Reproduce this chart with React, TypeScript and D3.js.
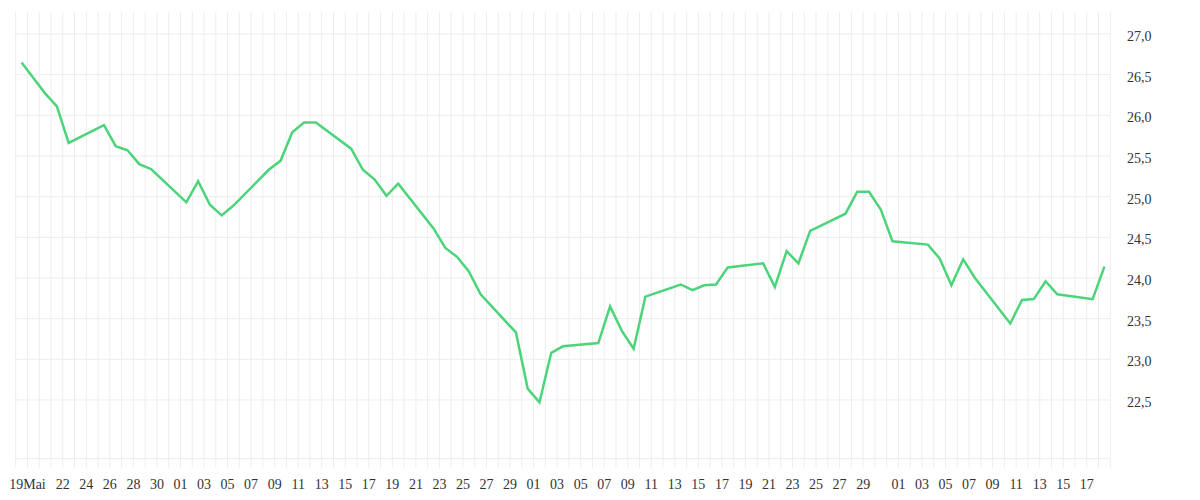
import { useEffect, useRef } from 'react';
import * as d3 from 'd3';

// trading days (weekdays) and closing values
const dates = [
  '2020-05-18', '2020-05-19', '2020-05-20', '2020-05-21', '2020-05-22',
  '2020-05-25', '2020-05-26', '2020-05-27', '2020-05-28', '2020-05-29',
  '2020-06-01', '2020-06-02', '2020-06-03', '2020-06-04', '2020-06-05',
  '2020-06-08', '2020-06-09', '2020-06-10', '2020-06-11', '2020-06-12',
  '2020-06-15', '2020-06-16', '2020-06-17', '2020-06-18', '2020-06-19',
  '2020-06-22', '2020-06-23', '2020-06-24', '2020-06-25', '2020-06-26',
  '2020-06-29', '2020-06-30', '2020-07-01', '2020-07-02', '2020-07-03',
  '2020-07-06', '2020-07-07', '2020-07-08', '2020-07-09', '2020-07-10',
  '2020-07-13', '2020-07-14', '2020-07-15', '2020-07-16', '2020-07-17',
  '2020-07-20', '2020-07-21', '2020-07-22', '2020-07-23', '2020-07-24',
  '2020-07-27', '2020-07-28', '2020-07-29', '2020-07-30', '2020-07-31',
  '2020-08-03', '2020-08-04', '2020-08-05', '2020-08-06', '2020-08-07',
  '2020-08-10', '2020-08-11', '2020-08-12', '2020-08-13', '2020-08-14',
  '2020-08-17', '2020-08-18',
];

const values = [
  26.65, 26.46, 26.27, 26.11, 25.66,
  25.88, 25.62, 25.57, 25.40, 25.34,
  24.93, 25.19, 24.90, 24.77, 24.89,
  25.33, 25.44, 25.79, 25.91, 25.91,
  25.59, 25.33, 25.21, 25.01, 25.16,
  24.61, 24.37, 24.26, 24.08, 23.80,
  23.33, 22.64, 22.47, 23.08, 23.16,
  23.20, 23.65, 23.35, 23.13, 23.77,
  23.92, 23.85, 23.91, 23.92, 24.13,
  24.18, 23.89, 24.33, 24.18, 24.58,
  24.79, 25.06, 25.06, 24.84, 24.45,
  24.41, 24.24, 23.91, 24.23, 24.00,
  23.44, 23.73, 23.74, 23.96, 23.80,
  23.74, 24.14,
];

const xTicks = [
  '2020-05-19', '2020-05-22', '2020-05-24', '2020-05-26', '2020-05-28', '2020-05-30',
  '2020-06-01', '2020-06-03', '2020-06-05', '2020-06-07', '2020-06-09', '2020-06-11',
  '2020-06-13', '2020-06-15', '2020-06-17', '2020-06-19', '2020-06-21', '2020-06-23',
  '2020-06-25', '2020-06-27', '2020-06-29',
  '2020-07-01', '2020-07-03', '2020-07-05', '2020-07-07', '2020-07-09', '2020-07-11',
  '2020-07-13', '2020-07-15', '2020-07-17', '2020-07-19', '2020-07-21', '2020-07-23',
  '2020-07-25', '2020-07-27', '2020-07-29',
  '2020-08-01', '2020-08-03', '2020-08-05', '2020-08-07', '2020-08-09', '2020-08-11',
  '2020-08-13', '2020-08-15', '2020-08-17',
];

const yTicks = [22.5, 23.0, 23.5, 24.0, 24.5, 25.0, 25.5, 26.0, 26.5, 27.0];

const domainStart = '2020-05-18';
const domainEnd = '2020-08-19';

const width = 1200;
const height = 500;
const left = 15.7;
const right = 1110.3;
const top = 12;
const bottom = 458.7;
const gridColor = '#ededed';
const textColor = '#333';
const lineColor = '#4cd47b';
const fontSize = 14;

function drawChart(node: SVGSVGElement) {
  const parse = d3.utcParse('%Y-%m-%d');
  const svg = d3.select(node);
  svg.selectAll('*').remove();

  const x = d3.scaleUtc()
    .domain([parse(domainStart)!, parse(domainEnd)!])
    .range([left, right]);

  const y = d3.scaleLinear()
    .domain([21.778, 27.27])
    .range([bottom, top]);

  const days = d3.utcDay.range(parse(domainStart)!, d3.utcDay.offset(parse(domainEnd)!, 1));

  // vertical grid, one line per day, running down past the baseline as ticks
  svg.append('g')
    .selectAll('line')
    .data(days)
    .join('line')
    .attr('x1', d => x(d))
    .attr('x2', d => x(d))
    .attr('y1', top)
    .attr('y2', bottom + 9)
    .attr('stroke', gridColor)
    .attr('stroke-width', 1);

  // horizontal grid
  svg.append('g')
    .selectAll('line')
    .data(yTicks)
    .join('line')
    .attr('x1', left)
    .attr('x2', right)
    .attr('y1', d => y(d))
    .attr('y2', d => y(d))
    .attr('stroke', gridColor)
    .attr('stroke-width', 1);

  svg.append('line')
    .attr('x1', left)
    .attr('x2', right)
    .attr('y1', bottom)
    .attr('y2', bottom)
    .attr('stroke', gridColor)
    .attr('stroke-width', 1);

  const fmt = d3.format('.1f');
  svg.append('g')
    .selectAll('text')
    .data(yTicks)
    .join('text')
    .attr('x', 1127)
    .attr('y', d => y(d) + 7)
    .attr('font-family', '"Liberation Serif", serif')
    .attr('font-size', fontSize)
    .attr('fill', textColor)
    .text(d => fmt(d).replace('.', ','));

  const dayFmt = d3.utcFormat('%d');
  svg.append('g')
    .selectAll('text')
    .data(xTicks.map(s => parse(s)!))
    .join('text')
    .attr('x', d => x(d))
    .attr('y', 489)
    .attr('text-anchor', 'middle')
    .attr('font-family', '"Liberation Serif", serif')
    .attr('font-size', fontSize)
    .attr('fill', textColor)
    .text((d, i) => i === 0 ? dayFmt(d) + 'Mai' : dayFmt(d));

  const points = dates.map((s, i) => ({ date: d3.utcHour.offset(parse(s)!, 12), value: values[i] }));

  const line = d3.line<{ date: Date, value: number }>()
    .x(d => x(d.date))
    .y(d => y(d.value));

  svg.append('path')
    .datum(points)
    .attr('d', line)
    .attr('fill', 'none')
    .attr('stroke', lineColor)
    .attr('stroke-width', 2.5)
    .attr('stroke-linejoin', 'miter');
}

export default function App() {
  const ref = useRef<SVGSVGElement>(null);

  useEffect(() => {
    if (ref.current) drawChart(ref.current);
  }, []);

  return (
    <svg
      ref={ref}
      width={width}
      height={height}
      style={{ position: 'absolute', left: 0, top: 0, background: '#fff' }}
    />
  );
}
